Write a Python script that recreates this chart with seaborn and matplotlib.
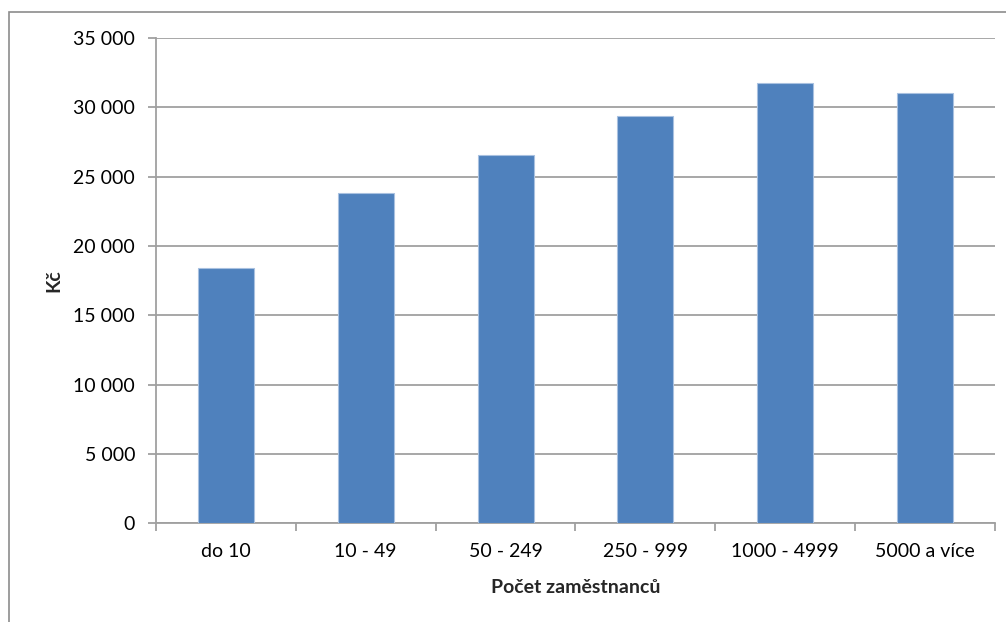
import matplotlib
matplotlib.use("Agg")
import matplotlib.pyplot as plt
from matplotlib.patches import Rectangle
from matplotlib.ticker import FuncFormatter
import pandas as pd
import seaborn as sns

# --- Data -----------------------------------------------------------------
categories = ["do 10", "10 - 49", "50 - 249", "250 - 999", "1000 - 4999", "5000 a více"]
wages = [18440, 23840, 26570, 29380, 31760, 31010]
y_ticks = [0, 5000, 10000, 15000, 20000, 25000, 30000, 35000]

df = pd.DataFrame({"kategorie": categories, "mzda": wages})

sns.set_theme(style="white")
plt.rcParams["font.family"] = ["Lato", "DejaVu Sans"]

BAR = "#4F81BD"
GRID = "#A0A0A0"
FS = 14

fig = plt.figure(figsize=(10.06, 6.22), dpi=100)
ax = fig.add_axes([156 / 1006, 1 - 523.3 / 622, (995 - 156) / 1006, (523.3 - 38) / 622])

sns.barplot(data=df, x="kategorie", y="mzda", color=BAR, width=0.4,
            edgecolor="#A9C1E0", linewidth=0.8, saturation=1, ax=ax, zorder=3)

ax.set_ylim(0, 35000)
ax.set_xlim(-0.5, len(categories) - 0.5)
ax.set_yticks(y_ticks)
ax.yaxis.set_major_formatter(FuncFormatter(lambda v, _: f"{int(v):,}".replace(",", " ")))
ax.grid(axis="y", color=GRID, linewidth=1.3, zorder=0)
ax.set_axisbelow(True)

# Excel-like axes: only left and bottom, ticks between categories
for side in ["top", "right"]:
    ax.spines[side].set_visible(False)
for side in ["left", "bottom"]:
    ax.spines[side].set_color(GRID)
    ax.spines[side].set_linewidth(1.3)
ax.set_xticks(range(len(categories)))
ax.set_xticklabels(categories)
ax.set_xticks([i - 0.5 for i in range(len(categories) + 1)], minor=True)
ax.tick_params(axis="x", which="major", length=0, pad=14, labelsize=FS, colors="black")
ax.tick_params(axis="x", which="minor", bottom=True, length=6, width=1.3, color=GRID)
ax.tick_params(axis="y", left=True, length=6, width=1.3, color=GRID, pad=9,
               labelsize=FS, labelcolor="black")

ax.set_xlabel("Počet zaměstnanců", fontsize=FS, fontweight="bold", labelpad=14)
ax.set_ylabel("Kč", fontsize=FS, fontweight="bold", labelpad=8)

# outer chart border (cut off at right / bottom like the source)
fig.patches.append(Rectangle((9 / 1006, -0.1), 1.2, 1 - 12 / 622 + 0.1,
                             transform=fig.transFigure, fill=False,
                             edgecolor="#8C8C8C", linewidth=1.2))

fig.savefig("out.png", dpi=100)
